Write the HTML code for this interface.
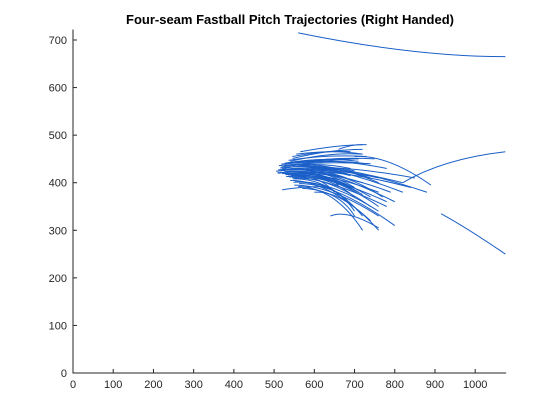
<!DOCTYPE html>
<html><head><meta charset="utf-8"><style>
body{margin:0;background:#fff;}
svg{display:block;font-family:"Liberation Sans",Arial,sans-serif;}
</style></head><body>
<svg id="chart" width="560" height="420" viewBox="0 0 560 420">
<rect width="560" height="420" fill="#fff"/>
<text x="290" y="24" text-anchor="middle" font-size="13" font-weight="bold" fill="#000">Four-seam Fastball Pitch Trajectories (Right Handed)</text>
<g id="plot"></g>
<g id="axes"></g>
</svg>
<script>
// Trajectories: start, control, end (data units)
const startX = [515,520,525,530,510,540,545,550,520,535,555,560,505,528,538,548,512,522,532,542,552,562,518,526,536,546,556,566,530,540,550,560,570,575,580,545,555,565,520,600,640,660,560,700,820,915,
                510,515,520,525,530,535,540,545,550,555,560,508,518,528,538,548];
const startY = [425,430,435,440,420,445,410,415,428,432,438,442,424,418,412,408,436,426,422,416,402,398,433,441,447,451,429,421,413,405,395,392,388,420,430,455,460,465,385,380,330,470,715,455,400,335,
                427,431,419,423,437,414,429,443,409,434,419,421,439,417,427,401];
const ctrlX  = [600,610,620,630,590,640,630,640,610,620,640,650,600,620,630,640,600,610,620,630,640,650,610,620,630,640,650,660,620,630,640,650,660,660,670,640,650,660,600,670,680,690,850,780,920,980,
                600,610,620,600,630,610,620,640,630,620,650,590,610,620,640,650];
const ctrlY  = [440,445,450,455,430,465,420,420,440,445,450,455,435,425,420,410,445,435,430,420,405,400,445,455,460,470,440,430,415,405,395,390,385,430,440,470,470,480,395,385,345,480,665,460,450,305,
                435,440,425,430,445,420,435,450,415,440,425,428,445,422,432,405];
const endX   = [700,740,760,780,680,720,700,760,800,820,730,750,690,760,780,720,820,700,740,710,760,800,690,710,730,720,850,840,780,740,760,720,700,770,880,690,720,730,640,760,760,720,1075,890,1075,1075,
                680,700,660,720,740,650,690,710,740,670,790,630,700,720,760,700];
const endY   = [420,410,400,430,395,460,370,350,360,380,440,450,415,380,360,330,400,390,370,380,340,310,430,445,455,470,410,390,350,320,330,300,330,370,380,465,460,480,390,300,305,480,665,395,465,250,
                410,425,395,400,440,380,415,450,350,420,380,405,450,375,410,340];

const X0 = 73, XS = 0.4022, Y0 = 373, YS = 0.4757;
const XMAX = 1077, YMAX = 722;
function xp(v){ return X0 + v*XS; }
function yp(v){ return Y0 - v*YS; }

const xTicks = [0,100,200,300,400,500,600,700,800,900,1000];
const yTicks = [0,100,200,300,400,500,600,700];

const NS = "http://www.w3.org/2000/svg";
const plot = document.getElementById('plot');
const axes = document.getElementById('axes');

for (let i = 0; i < startX.length; i++) {
  const p = document.createElementNS(NS, 'path');
  p.setAttribute('d', `M${xp(startX[i])},${yp(startY[i])} Q${xp(ctrlX[i])},${yp(ctrlY[i])} ${xp(endX[i])},${yp(endY[i])}`);
  p.setAttribute('fill', 'none');
  p.setAttribute('stroke', '#1a5fc8');
  p.setAttribute('stroke-width', '1');
  
  
  plot.appendChild(p);
}

const xr = xp(XMAX), yt = yp(YMAX);
const axis = document.createElementNS(NS, 'path');
axis.setAttribute('d', `M${X0},${yt} V${Y0} H${xr}`);
axis.setAttribute('fill', 'none');
axis.setAttribute('stroke', '#262626');
axis.setAttribute('stroke-width', '1');


axes.appendChild(axis);

xTicks.forEach(t => {
  const x = xp(t);
  const l = document.createElementNS(NS, 'line');
  l.setAttribute('x1', x); l.setAttribute('x2', x);
  l.setAttribute('y1', Y0); l.setAttribute('y2', Y0 - 4);
  l.setAttribute('stroke', '#262626');
  
  
  axes.appendChild(l);
  const tx = document.createElementNS(NS, 'text');
  tx.setAttribute('x', x); tx.setAttribute('y', Y0 + 15);
  tx.setAttribute('text-anchor', 'middle');
  tx.setAttribute('font-size', '11');
  tx.setAttribute('fill', '#262626');
  tx.textContent = t;
  
  
  axes.appendChild(tx);
});
yTicks.forEach(t => {
  const y = yp(t);
  const l = document.createElementNS(NS, 'line');
  l.setAttribute('x1', X0); l.setAttribute('x2', X0 + 4);
  l.setAttribute('y1', y); l.setAttribute('y2', y);
  l.setAttribute('stroke', '#262626');
  
  
  axes.appendChild(l);
  const tx = document.createElementNS(NS, 'text');
  tx.setAttribute('x', X0 - 6); tx.setAttribute('y', y + 4);
  tx.setAttribute('text-anchor', 'end');
  tx.setAttribute('font-size', '11');
  tx.setAttribute('fill', '#262626');
  tx.textContent = t;
  
  
  axes.appendChild(tx);
});
</script>
</body></html>
